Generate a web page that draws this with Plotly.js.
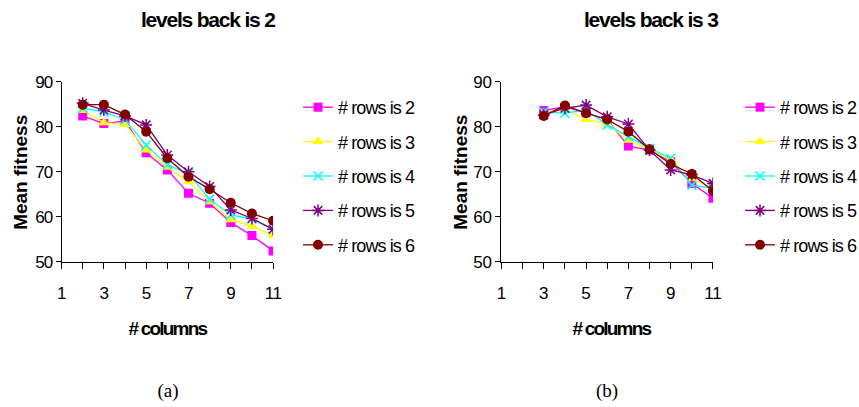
<!DOCTYPE html>
<html>
<head>
<meta charset="utf-8">
<script src="https://cdn.plot.ly/plotly-3.0.1.min.js"></script>
<style>
html,body{margin:0;padding:0;background:#fff;}
.xtick text{letter-spacing:-0.5px;}
.ytick text{letter-spacing:-1px;}
text.legendtext, text.legend2text{letter-spacing:-0.9px;}
</style>
</head>
<body>
<div id="chart" style="width:859px;height:407px;"></div>
<script>
// ---- data ----
const seriesNames = ["# rows is 2", "# rows is 3", "# rows is 4", "# rows is 5", "# rows is 6"];
const colsA = [2, 3, 4, 5, 6, 7, 8, 9, 10, 11];
const colsB = [3, 4, 5, 6, 7, 8, 9, 10, 11];

// levels back is 2
const a_rows2 = [82.4, 80.7, 81.3, 74.2, 70.4, 65.2, 63.0, 58.7, 55.8, 52.4];
const a_rows3 = [83.6, 80.9, 80.5, 74.8, 71.0, 67.8, 63.3, 59.3, 57.9, 55.8];
const a_rows4 = [84.1, 83.3, 81.5, 75.9, 71.5, 69.6, 63.9, 60.4, 59.5, 57.2];
const a_rows5 = [85.2, 83.7, 82.4, 80.4, 73.7, 70.0, 66.7, 61.5, 59.6, 57.2];
const a_rows6 = [84.9, 84.9, 82.7, 78.9, 73.0, 68.9, 66.1, 63.1, 60.7, 59.1];

// levels back is 3
const b_rows2 = [83.6, 84.4, 83.1, 81.5, 75.7, 74.8, 72.2, 67.4, 64.1];
const b_rows3 = [83.1, 83.9, 81.6, 80.6, 77.0, 74.8, 72.7, 68.5, 66.3];
const b_rows4 = [83.3, 83.0, 83.7, 80.4, 77.8, 75.2, 73.0, 67.0, 66.3];
const b_rows5 = [82.6, 84.1, 84.8, 82.2, 80.6, 74.8, 70.4, 69.3, 67.4];
const b_rows6 = [82.4, 84.7, 83.0, 81.6, 78.9, 75.0, 71.7, 69.5, 65.7];

const titles = ["levels back is 2", "levels back is 3"];
const panelLabels = ["(a)", "(b)"];
const xTitle = "# columns";
const yTitle = "Mean fitness";

// ---- styles ----
const colors = ["#FF00FF", "#FFFF00", "#00FFFF", "#800080", "#800000"];
const symbols = ["square", "triangle-up", "x-thin-open", "asterisk-open", "circle"];
const sizes = [9, 10, 9, 10, 10];
const SANS = "'Liberation Sans', Arial, sans-serif";

const seriesA = [a_rows2, a_rows3, a_rows4, a_rows5, a_rows6];
const seriesB = [b_rows2, b_rows3, b_rows4, b_rows5, b_rows6];

const traces = [];
function addPanel(xs, series, xa, ya, legendId) {
  series.forEach((ys, i) => {
    traces.push({
      type: "scatter", mode: "lines+markers",
      x: xs, y: ys, xaxis: xa, yaxis: ya,
      name: seriesNames[i], legend: legendId, legendgroup: legendId + i,
      line: {color: colors[i], width: 1.3},
      marker: {symbol: symbols[i], size: sizes[i], color: colors[i],
               line: {color: colors[i], width: (i === 2 || i === 3) ? 1.5 : 0}}
    });
  });
}
addPanel(colsA, seriesA, "x", "y", "legend");
addPanel(colsB, seriesB, "x2", "y2", "legend2");

const yDom = [1 - 261.7 / 407, 1 - 81.7 / 407];
function xAxis(dom) {
  return {
    domain: dom, range: [1, 11], tick0: 1, dtick: 2,
    showline: true, linecolor: "#000", linewidth: 1,
    ticks: "outside", ticklen: 6, tickcolor: "#000", tickwidth: 1,
    minor: {dtick: 1, tick0: 1, ticks: "outside", ticklen: 6, tickcolor: "#000", tickwidth: 1},
    ticklabelstandoff: 10,
    showgrid: false, zeroline: false,
    tickfont: {family: SANS, size: 17, color: "#000"}
  };
}
function yAxis(anchor) {
  return {
    domain: yDom, range: [50, 90], dtick: 10, anchor: anchor,
    showline: true, linecolor: "#000", linewidth: 1,
    ticks: "outside", ticklen: 5, tickcolor: "#000", tickwidth: 1,
    showgrid: false, zeroline: false,
    tickfont: {family: SANS, size: 17, color: "#000"}
  };
}
function legendCfg(x) {
  return {
    x: x, y: 1 - 89 / 407, xanchor: "left", yanchor: "top",
    font: {family: SANS, size: 18, color: "#000"},
    tracegroupgap: 8, itemwidth: 30,
    bgcolor: "rgba(0,0,0,0)", borderwidth: 0
  };
}

const xDomA = [62 / 859, 275 / 859];
const xDomB = [505 / 859, 718 / 859];

// target centres (px) of horizontal texts, used for fine alignment after the letter spacing
const centres = {};
centres[titles[0]] = [208]; centres[titles[1]] = [651];
centres[xTitle] = [168, 612];
centres[panelLabels[0]] = [168]; centres[panelLabels[1]] = [607];

const annotations = [];
[0, 1].forEach(k => {
  annotations.push({xref: "paper", yref: "paper", x: (208 + k * 443) / 859, y: 1 - 19 / 407,
    text: "<b>" + titles[k] + "</b>", showarrow: false, xanchor: "center", yanchor: "middle",
    font: {family: SANS, size: 21, color: "#000"}});
  annotations.push({xref: "paper", yref: "paper", x: (168 + k * 444) / 859, y: 1 - 328 / 407,
    text: "<b>" + xTitle + "</b>", showarrow: false, xanchor: "center", yanchor: "middle",
    font: {family: SANS, size: 19, color: "#000"}});
  annotations.push({xref: "paper", yref: "paper", x: (21 + k * 443) / 859, y: 1 - 172 / 407,
    text: "<b>" + yTitle + "</b>", showarrow: false, textangle: -90, xanchor: "center", yanchor: "middle",
    font: {family: SANS, size: 19, color: "#000"}});
  annotations.push({xref: "paper", yref: "paper", x: (168 + k * 439) / 859, y: 1 - 391 / 407,
    text: panelLabels[k], showarrow: false, xanchor: "center", yanchor: "middle",
    font: {family: "'Liberation Serif', 'Times New Roman', serif", size: 19, color: "#000"}});
});

const layout = {
  width: 859, height: 407,
  margin: {l: 0, r: 0, t: 0, b: 0},
  paper_bgcolor: "#fff", plot_bgcolor: "#fff",
  showlegend: true,
  xaxis: Object.assign(xAxis(xDomA), {anchor: "y"}), yaxis: yAxis("x"),
  xaxis2: Object.assign(xAxis(xDomB), {anchor: "y2"}), yaxis2: yAxis("x2"),
  legend: legendCfg(302 / 859),
  legend2: legendCfg(741 / 859),
  annotations: annotations
};

const gd = document.getElementById("chart");
Plotly.newPlot(gd, traces, layout, {staticPlot: true, displayModeBar: false}).then(() => {
  const root = gd.getBoundingClientRect();
  // condensed lettering as in the original figure
  const seen = {};
  document.querySelectorAll(".annotation-text").forEach(t => {
    const s = t.textContent;
    if (s.indexOf("levels") === 0) t.style.letterSpacing = "-1.2px";
    else if (s === xTitle) t.style.letterSpacing = "-1.8px";
    if (centres[s]) {
      const n = seen[s] || 0; seen[s] = n + 1;
      const target = centres[s][n];
      if (target !== undefined) {
        const r = t.getBoundingClientRect();
        const dx = target - (r.left + r.width / 2 - root.left);
        const prev = t.getAttribute("transform") || "";
        t.setAttribute("transform", "translate(" + dx.toFixed(1) + ",0) " + prev);
      }
    }
  });
  // place each legend so its first line sample starts where the original's does
  const legendStarts = [303, 745];
  const groups = Array.from(document.querySelectorAll(".infolayer > g")).filter(g => g.querySelector("path.js-line"));
  groups.forEach(g => {
    const line = g.querySelector("path.js-line");
    const r = line.getBoundingClientRect();
    const left = r.left - root.left;
    const target = left > 500 ? legendStarts[1] : legendStarts[0];
    const dx = target - left;
    const prev = g.getAttribute("transform") || "";
    g.setAttribute("transform", "translate(" + dx.toFixed(1) + ",0) " + prev);
    g.querySelectorAll("[clip-path]").forEach(e => e.removeAttribute("clip-path"));
  });
});
</script>
</body>
</html>
